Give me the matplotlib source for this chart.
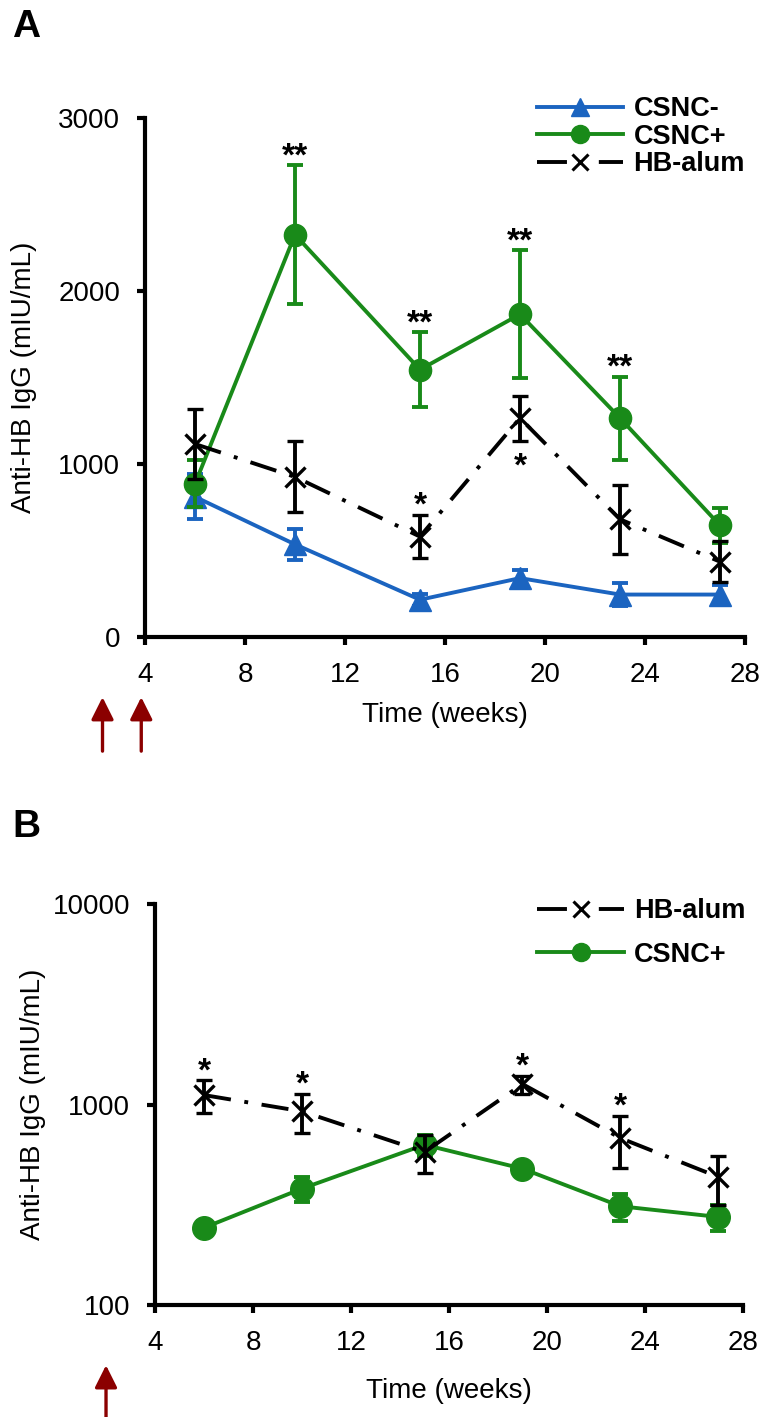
import numpy as np
import matplotlib
matplotlib.use("Agg")
import matplotlib.pyplot as plt
from matplotlib.lines import Line2D
from matplotlib.ticker import FixedLocator, NullLocator, FixedFormatter

# -----------------------------------------------------------------------
# Data
# -----------------------------------------------------------------------
weeks = [6, 10, 15, 19, 23, 27]

csnc_neg_a     = [810, 535, 215, 340, 245, 245]
csnc_neg_a_err = [130, 90, 35, 45, 65, 55]
csnc_pos_a     = [885, 2325, 1545, 1865, 1265, 645]
csnc_pos_a_err = [135, 400, 215, 370, 240, 100]
hb_alum        = [1115, 925, 580, 1265, 680, 435]
hb_alum_err    = [205, 205, 125, 130, 200, 120]

csnc_pos_b     = [243, 381, 630, 479, 311, 275]
csnc_pos_b_err = [20, 55, 78, 32, 47, 42]

# significance marks: (week, series, text, above/below)
stars_a = [(10, "pos", "**", "above"), (15, "pos", "**", "above"),
           (19, "pos", "**", "above"), (23, "pos", "**", "above"),
           (15, "alum", "*", "above"), (19, "alum", "*", "below")]
stars_b = [(6, "*"), (10, "*"), (19, "*"), (23, "*")]

arrow_weeks_a = [2.3, 3.85]
arrow_weeks_b = [2.0]

x_ticks = [4, 8, 12, 16, 20, 24, 28]

BLUE  = "#1b64c0"
GREEN = "#198a19"
BLACK = "black"
RED   = "#8b0000"

plt.rcParams["font.family"] = ["Liberation Sans", "DejaVu Sans"]

LW = 2.8
FS = 20
LEG_FS = 19.5
STAR_FS = 24
DASH = (7, 3.5, 1, 3.5)


def style_axes(ax):
    for s in ("top", "right"):
        ax.spines[s].set_visible(False)
    for s in ("left", "bottom"):
        ax.spines[s].set_linewidth(3)
    ax.tick_params(direction="out", length=6, width=3, labelsize=FS, pad=12)
    ax.set_xlim(4, 28)
    ax.set_xticks(x_ticks)


def plot_alum(ax):
    ax.errorbar(weeks, hb_alum, yerr=hb_alum_err, color=BLACK, lw=LW,
                dashes=DASH, marker="x", ms=15, mew=2.4,
                elinewidth=LW, capsize=5.5, capthick=LW, zorder=4)


def add_arrows(ax, xs, tip, tail):
    for x in xs:
        ax.annotate("", xy=(x, tip), xytext=(x, tail),
                    xycoords=("data", "axes fraction"),
                    textcoords=("data", "axes fraction"),
                    arrowprops=dict(arrowstyle="-|>", color=RED, lw=2.4,
                                    mutation_scale=34, shrinkA=0, shrinkB=0),
                    annotation_clip=False)


def handle(color, marker, ms, dashed=False):
    if dashed:
        return Line2D([], [], color=color, lw=LW, marker=marker, ms=11,
                      mew=2.2, dashes=(7.7, 8.2))
    return Line2D([], [], color=color, lw=LW, marker=marker, ms=ms)


fig = plt.figure(figsize=(7.64, 14.17), dpi=100, facecolor="white")

# ---- Panel A ----
axA = fig.add_axes([0.1898, 0.5505, 0.7853, 0.3663])
style_axes(axA)
axA.errorbar(weeks, csnc_neg_a, yerr=csnc_neg_a_err, color=BLUE, lw=LW,
             marker="^", ms=16, elinewidth=LW, capsize=5.5, capthick=LW,
             zorder=2)
axA.errorbar(weeks, csnc_pos_a, yerr=csnc_pos_a_err, color=GREEN, lw=LW,
             marker="o", ms=16, elinewidth=LW, capsize=5.5, capthick=LW,
             zorder=3)
plot_alum(axA)
axA.set_ylim(0, 3000)
axA.set_yticks([0, 1000, 2000, 3000])
axA.set_ylabel("Anti-HB IgG (mIU/mL)", fontsize=FS)
axA.yaxis.set_label_coords(-0.18, 0.5)
axA.set_xlabel("Time (weeks)", fontsize=FS, labelpad=10)

series_a = {"pos": (csnc_pos_a, csnc_pos_a_err), "alum": (hb_alum, hb_alum_err)}
for w, key, txt, where in stars_a:
    vals, errs = series_a[key]
    i = weeks.index(w)
    if where == "above":
        axA.annotate(txt, (w, vals[i] + errs[i]), xytext=(0, 0),
                     textcoords="offset points", ha="center", va="baseline",
                     fontsize=STAR_FS, fontweight="bold")
    else:
        axA.annotate(txt, (w, vals[i] - errs[i]), xytext=(0, -25),
                     textcoords="offset points", ha="center", va="baseline",
                     fontsize=STAR_FS, fontweight="bold")

axA.legend([handle(BLUE, "^", 13), handle(GREEN, "o", 13),
            handle(BLACK, "x", 11, dashed=True)],
           ["CSNC-", "CSNC+", "HB-alum"],
           loc="upper left", bbox_to_anchor=(0.653, 1.042), frameon=False,
           borderpad=0, borderaxespad=0, handlelength=3.2,
           handletextpad=0.37, labelspacing=0.06,
           prop={"weight": "bold", "size": LEG_FS})
add_arrows(axA, arrow_weeks_a, -0.116, -0.22)

# ---- Panel B ----
axB = fig.add_axes([0.2029, 0.0790, 0.7696, 0.2830])
style_axes(axB)
plot_alum(axB)
axB.errorbar(weeks, csnc_pos_b, yerr=csnc_pos_b_err, color=GREEN, lw=LW,
             marker="o", ms=17, elinewidth=LW, capsize=5.5, capthick=LW,
             zorder=3)
axB.set_yscale("log")
axB.set_ylim(100, 10000)
axB.yaxis.set_major_locator(FixedLocator([100, 1000, 10000]))
axB.yaxis.set_major_formatter(FixedFormatter(["100", "1000", "10000"]))
axB.yaxis.set_minor_locator(NullLocator())
axB.set_ylabel("Anti-HB IgG (mIU/mL)", fontsize=FS)
axB.yaxis.set_label_coords(-0.185, 0.5)
axB.set_xlabel("Time (weeks)", fontsize=FS, labelpad=16)

for w, txt in stars_b:
    i = weeks.index(w)
    axB.annotate(txt, (w, hb_alum[i] + hb_alum_err[i]), xytext=(0, 0),
                 textcoords="offset points", ha="center", va="baseline",
                 fontsize=STAR_FS, fontweight="bold")

axB.legend([handle(BLACK, "x", 11, dashed=True), handle(GREEN, "o", 13)],
           ["HB-alum", "CSNC+"],
           loc="upper left", bbox_to_anchor=(0.650, 1.015), frameon=False,
           borderpad=0, borderaxespad=0, handlelength=3.2,
           handletextpad=0.37, labelspacing=0.65,
           prop={"weight": "bold", "size": LEG_FS})
add_arrows(axB, arrow_weeks_b, -0.15, -0.28)

fig.text(0.016, 0.994, "A", fontsize=28, fontweight="bold", va="top")
fig.text(0.016, 0.429, "B", fontsize=28, fontweight="bold", va="top")

plt.savefig("out.png", dpi=100, facecolor="white")
plt.close(fig)
